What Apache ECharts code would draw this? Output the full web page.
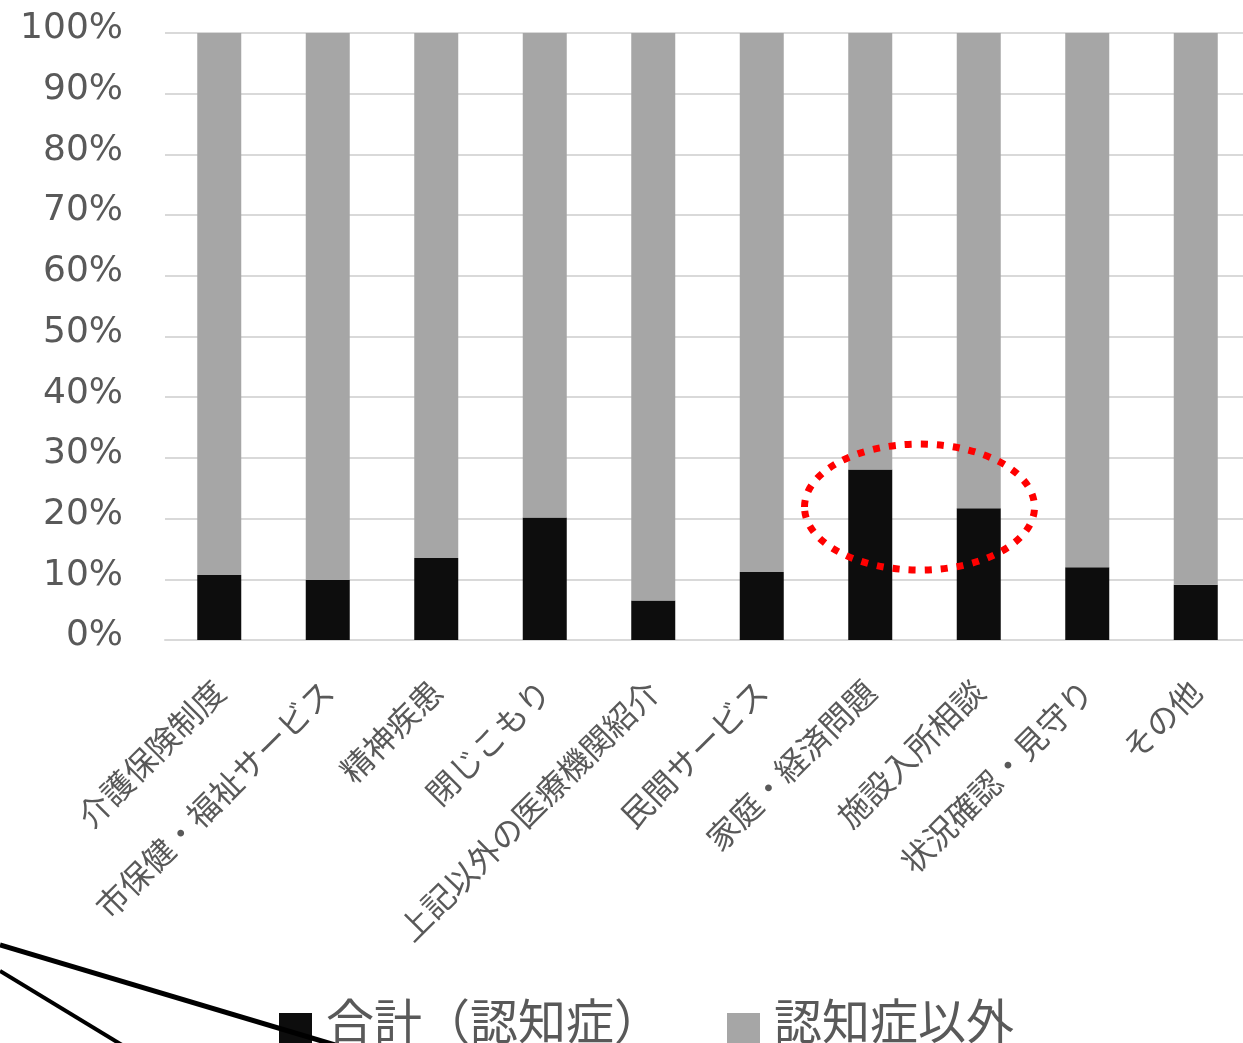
<!DOCTYPE html>
<html>
<head>
<meta charset="utf-8">
<script src="https://cdn.jsdelivr.net/npm/echarts@6/dist/echarts.min.js"></script>
<style>
html,body{margin:0;padding:0;background:#fff;}
#chart{width:1243px;height:1043px;}
</style>
</head>
<body>
<div id="chart"></div>
<script>
const categories = ['介護保険制度','市保健・福祉サービス','精神疾患','閉じこもり','上記以外の医療機関紹介','民間サービス','家庭・経済問題','施設入所相談','状況確認・見守り','その他'];
const dementia = [10.7, 9.9, 13.5, 20.2, 6.5, 11.2, 28.1, 21.7, 12.0, 9.1];
const nonDementia = [89.3, 90.1, 86.5, 79.8, 93.5, 88.8, 71.9, 78.3, 88.0, 90.9];
const seriesNames = ['合計（認知症）', '認知症以外'];
const yTicks = [0, 10, 20, 30, 40, 50, 60, 70, 80, 90, 100];

const chart = echarts.init(document.getElementById('chart'), null, {renderer: 'canvas'});
const option = {
  animation: false,
  backgroundColor: '#ffffff',
  grid: {left: 165, right: -7, top: 33, bottom: 403, containLabel: false, outerBoundsMode: 'none'},
  legend: {
    data: seriesNames,
    left: 279,
    top: 997,
    padding: 0,
    icon: 'rect',
    itemWidth: 33,
    itemHeight: 33,
    itemGap: 65,
    formatter: '{a|{name}}',
    textStyle: {
      color: '#595959',
      rich: {a: {fontSize: 48, color: '#595959', fontFamily: 'Noto Sans CJK JP', padding: [0, 0, 17, 9]}}
    }
  },
  xAxis: {
    type: 'category',
    data: categories,
    axisLine: {show: true, lineStyle: {color: '#d9d9d9', width: 2}},
    axisTick: {show: false},
    axisLabel: {rotate: 45, margin: 46, fontSize: 32, color: '#595959', fontFamily: 'Noto Sans CJK JP', interval: 0}
  },
  yAxis: {
    type: 'value',
    min: yTicks[0],
    max: yTicks[yTicks.length - 1],
    interval: 10,
    axisLine: {show: false},
    axisTick: {show: false},
    splitLine: {lineStyle: {color: '#d9d9d9', width: 2}},
    axisLabel: {formatter: '{value}%', fontSize: 36, color: '#595959', fontFamily: 'DejaVu Sans', margin: 42, verticalAlign: 'bottom', lineHeight: 8}
  },
  series: [
    {name: seriesNames[0], type: 'bar', stack: 'total', data: dementia, barWidth: 44, itemStyle: {color: '#0d0d0d'}},
    {name: seriesNames[1], type: 'bar', stack: 'total', data: nonDementia, barWidth: 44, itemStyle: {color: '#a6a6a6'}}
  ]
};
chart.setOption(option);

// annotation ellipse around categories 7 and 8, and the stray callout lines
const p6 = chart.convertToPixel({xAxisIndex: 0, yAxisIndex: 0}, [6, 21.9]);
const p7 = chart.convertToPixel({xAxisIndex: 0, yAxisIndex: 0}, [7, 21.9]);
chart.setOption({
  graphic: [
    {
      type: 'ellipse',
      shape: {cx: (p6[0] + p7[0]) / 2 - 5, cy: p6[1], rx: 115, ry: 63},
      style: {fill: 'none', stroke: '#ff0000', lineWidth: 7, lineDash: [7, 9]},
      z: 100
    },
    {type: 'line', shape: {x1: 0, y1: 945, x2: 335, y2: 1045}, style: {stroke: '#000', lineWidth: 5}, z: 100},
    {type: 'line', shape: {x1: 0, y1: 971, x2: 122, y2: 1045}, style: {stroke: '#000', lineWidth: 4}, z: 100}
  ]
});
</script>
</body>
</html>
